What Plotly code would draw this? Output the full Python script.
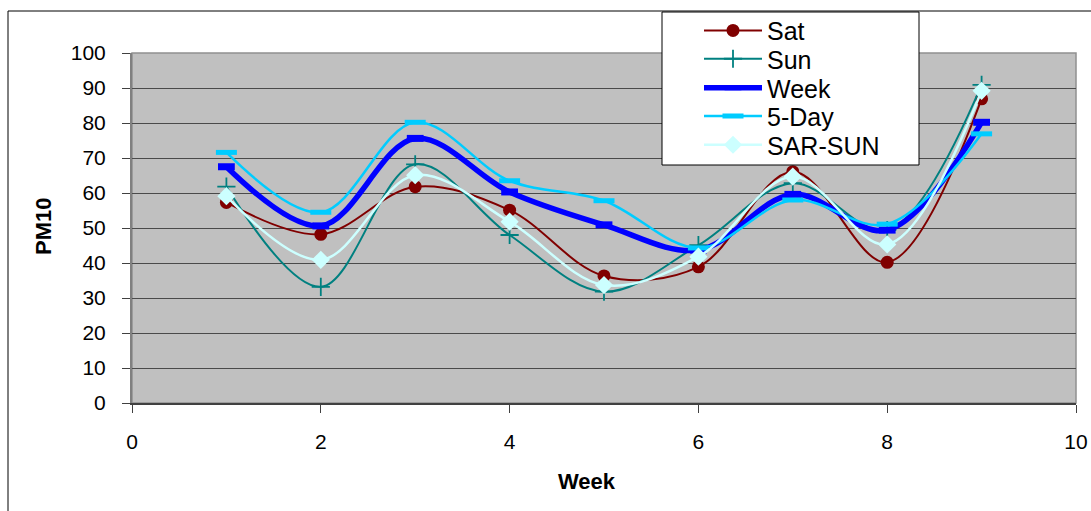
import plotly.graph_objects as go

weeks = [1, 2, 3, 4, 5, 6, 7, 8, 9]
sat = [57.3, 48.2, 61.8, 55.1, 36.3, 38.9, 66.1, 40.2, 86.9]
sun = [61.8, 33.2, 68.2, 48.0, 31.8, 45.1, 62.8, 49.4, 90.9]
week = [67.5, 50.6, 75.6, 60.3, 50.9, 43.7, 59.6, 49.4, 80.2]
five_day = [71.6, 54.5, 80.2, 63.5, 57.8, 44.3, 58.0, 51.1, 76.9]
sar_sun = [59.1, 40.9, 65.1, 51.8, 33.7, 41.8, 64.7, 45.3, 89.2]

FONT = "Liberation Sans, Arial, sans-serif"
W, H = 1091, 511
L, R, T, B = 132, W - 1076, 53, H - 403
PW, PH = 1076 - 132, 403 - 53

def px(x):
    return (x - L) / PW

def py(y):
    return (403 - y) / PH

fig = go.Figure()

legend_rows = [30.7, 59.0, 88.0, 116.3, 145.0]
legend_names = ["legend", "legend2", "legend3", "legend4", "legend5"]

def add(i, name, y, color, width, symbol, msize, mline=None, mcolor=None):
    marker = dict(symbol=symbol, size=msize, color=mcolor or color)
    if mline:
        marker["line"] = dict(color=color, width=mline)
    fig.add_trace(go.Scatter(
        x=weeks, y=y, name=name, mode="lines+markers",
        line=dict(color=color, width=width, shape="spline", smoothing=1),
        marker=marker, legend=legend_names[i],
    ))

add(0, "Sat", sat, "#800000", 2, "circle", 13)
add(1, "Sun", sun, "#008080", 2, "cross-thin", 13, mline=1.8)
add(2, "Week", week, "#0000FF", 5.5, "line-ew", 12, mline=7)
add(3, "5-Day", five_day, "#00CCFF", 2.5, "line-ew", 15, mline=5)
add(4, "SAR-SUN", sar_sun, "#CCFFFF", 2.5, "diamond", 14)

legend_layout = {}
for name, yc in zip(legend_names, legend_rows):
    legend_layout[name] = dict(
        x=px(699), y=py(yc), xanchor="left", yanchor="middle",
        bgcolor="rgba(0,0,0,0)", borderwidth=0,
        font=dict(family=FONT, size=25, color="black"),
        itemwidth=58,
    )

fig.update_layout(
    width=W, height=H,
    margin=dict(l=L, r=R, t=T, b=B, autoexpand=False),
    paper_bgcolor="white",
    plot_bgcolor="#C0C0C0",
    font=dict(family=FONT, size=21, color="black"),
    showlegend=True,
    xaxis=dict(
        range=[0, 10], dtick=2, tick0=0, showgrid=False, zeroline=False,
        showline=True, linecolor="#404040", linewidth=1.5,
        ticks="outside", ticklen=8, tickcolor="#404040", tickwidth=1,
        ticklabelstandoff=11, automargin=False,
        tickfont=dict(family=FONT, size=21),
    ),
    yaxis=dict(
        range=[0, 100], dtick=10, tick0=0, showgrid=True, gridcolor="#4a4a4a",
        gridwidth=1, zeroline=False,
        showline=True, linecolor="#808080", linewidth=2,
        ticks="outside", ticklen=8, tickcolor="#404040", tickwidth=1,
        ticklabelstandoff=12, automargin=False,
        tickfont=dict(family=FONT, size=21),
    ),
    shapes=[
        # chart frame (top and left edges)
        dict(type="line", xref="paper", yref="paper",
             x0=px(8), x1=px(1091), y0=py(11), y1=py(11),
             line=dict(color="black", width=1), layer="below"),
        dict(type="line", xref="paper", yref="paper",
             x0=px(8), x1=px(8), y0=py(11), y1=py(511),
             line=dict(color="black", width=1), layer="below"),
        # plot area border
        dict(type="rect", xref="paper", yref="paper",
             x0=0, x1=1, y0=0, y1=1,
             line=dict(color="#909090", width=1.5), fillcolor="rgba(0,0,0,0)", layer="below"),
        # legend box
        dict(type="rect", xref="paper", yref="paper",
             x0=px(662), x1=px(919), y0=py(165), y1=py(12),
             line=dict(color="black", width=1), fillcolor="white", layer="above"),
    ],
    annotations=[
        dict(text="<b>PM10</b>", xref="paper", yref="paper",
             x=px(43), y=py(227), showarrow=False, textangle=-90,
             font=dict(family=FONT, size=22), xanchor="center", yanchor="middle"),
        dict(text="<b>Week</b>", xref="paper", yref="paper",
             x=px(587), y=py(481), showarrow=False,
             font=dict(family=FONT, size=22), xanchor="center", yanchor="middle"),
    ],
    **legend_layout,
)

fig.write_html("out.html")
